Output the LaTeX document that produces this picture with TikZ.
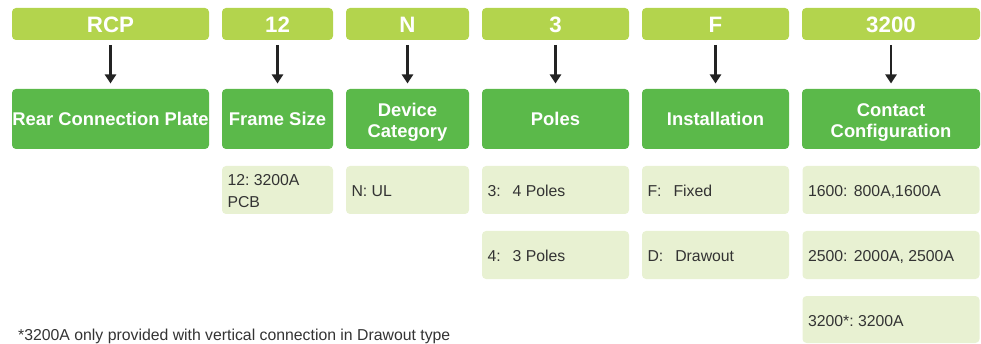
\documentclass[tikz,border=0pt]{standalone}
\usepackage{fontspec}
\setmainfont{Liberation Sans}
\usetikzlibrary{arrows.meta}
\definecolor{hdrc}{RGB}{179,212,77}
\definecolor{lblc}{RGB}{91,185,74}
\definecolor{litc}{RGB}{232,241,210}
\definecolor{txtc}{RGB}{51,51,51}
\definecolor{arrc}{RGB}{35,35,35}
\tikzset{
  boxbase/.style={rectangle, rounded corners=4pt, inner sep=0pt},
  hdr/.style={boxbase, fill=hdrc, minimum height=32pt},
  lbl/.style={boxbase, fill=lblc, minimum height=60pt},
  lit/.style={boxbase, fill=litc, minimum height=48pt},
  hdrtxt/.style={text=white, inner sep=0pt, anchor=base, font=\fontsize{22.3}{26}\selectfont\bfseries},
  lbltxt/.style={text=white, inner sep=0pt, anchor=base, align=center, font=\fontsize{18.4}{21}\selectfont\bfseries},
  littxt/.style={text=txtc, inner sep=0pt, anchor=base west, align=left, font=\fontsize{15.8}{22.5}\selectfont\frenchspacing},
  conn/.style={draw=arrc, line width=2.4pt, -{Triangle[width=11pt,length=9pt]},
    shorten <=4.7pt, shorten >=5.3pt},
  note/.style={text=txtc, inner sep=0pt, anchor=base west, font=\fontsize{15.8}{19}\selectfont\frenchspacing}
}
\begin{document}
\begin{tikzpicture}[x=1pt,y=-1pt]
\useasboundingbox (0,0) rectangle (981,344);
% headers
\node[hdr, minimum width=197pt] (h1) at (110.5,24) {};
\node[hdr, minimum width=111pt] (h2) at (277.5,24) {};
\node[hdr, minimum width=123pt] (h3) at (407.5,24) {};
\node[hdr, minimum width=147pt] (h4) at (555.5,24) {};
\node[hdr, minimum width=147pt] (h5) at (715.5,24) {};
\node[hdr, minimum width=178pt] (h6) at (891,24) {};
\node[hdrtxt] (ht1) at ([yshift=-8.6pt]h1.center) {RCP};
\node[hdrtxt] (ht2) at ([yshift=-8.6pt]h2.center) {12};
\node[hdrtxt] (ht3) at ([yshift=-8.6pt]h3.center) {N};
\node[hdrtxt] (ht4) at ([yshift=-8.6pt]h4.center) {3};
\node[hdrtxt] (ht5) at ([yshift=-8.6pt]h5.center) {F};
\node[hdrtxt] (ht6) at ([yshift=-8.6pt]h6.center) {3200};
% labels
\node[lbl, minimum width=197pt] (l1) at (110.5,119) {};
\node[lbl, minimum width=111pt] (l2) at (277.5,119) {};
\node[lbl, minimum width=123pt] (l3) at (407.5,119) {};
\node[lbl, minimum width=147pt] (l4) at (555.5,119) {};
\node[lbl, minimum width=147pt] (l5) at (715.5,119) {};
\node[lbl, minimum width=178pt] (l6) at (891,119) {};
\node[lbltxt] (lt1) at ([yshift=-6.6pt]l1.center) {Rear Connection Plate};
\node[lbltxt] (lt2) at ([yshift=-6.6pt]l2.center) {Frame Size};
\node[lbltxt] (lt3) at ([yshift=-18.7pt]l3.center) {Device\\Category};
\node[lbltxt] (lt4) at ([yshift=-6.6pt]l4.center) {Poles};
\node[lbltxt] (lt5) at ([yshift=-6.6pt]l5.center) {Installation};
\node[lbltxt] (lt6) at ([yshift=-18.7pt]l6.center) {Contact\\Configuration};
% arrows
\foreach \i in {1,...,6} \draw[conn] (h\i.south) -- (l\i.north);
% option boxes
\node[lit, minimum width=111pt] (o21) at (277.5,190) {};
\node[lit, minimum width=123pt] (o31) at (407.5,190) {};
\node[lit, minimum width=147pt] (o41) at (555.5,190) {};
\node[lit, minimum width=147pt] (o42) at (555.5,255) {};
\node[lit, minimum width=147pt] (o51) at (715.5,190) {};
\node[lit, minimum width=147pt] (o52) at (715.5,255) {};
\node[lit, minimum width=177pt] (o61) at (891,190) {};
\node[lit, minimum width=177pt] (o62) at (891,255) {};
\node[lit, minimum width=177pt, minimum height=47pt] (o63) at (891,319.5) {};
\node[littxt] (ot21) at ([xshift=5.5pt,yshift=-17.7pt]o21.west) {12: 3200A\\PCB};
\node[littxt] (ot31) at ([xshift=5.5pt,yshift=-6.6pt]o31.west) {N: UL};
\node[littxt] (ot41) at ([xshift=5.5pt,yshift=-6.6pt]o41.west) {3:\hspace{12pt}4 Poles};
\node[littxt] (ot42) at ([xshift=5.5pt,yshift=-6.6pt]o42.west) {4:\hspace{12pt}3 Poles};
\node[littxt] (ot51) at ([xshift=5.5pt,yshift=-6.6pt]o51.west) {F:\hspace{12pt}Fixed};
\node[littxt] (ot52) at ([xshift=5.5pt,yshift=-6.6pt]o52.west) {D:\hspace{12pt}Drawout};
\node[littxt] (ot61) at ([xshift=5.5pt,yshift=-6.6pt]o61.west) {1600:\hspace{2pt} 800A,1600A};
\node[littxt] (ot62) at ([xshift=5.5pt,yshift=-6.6pt]o62.west) {2500:\hspace{2pt} 2000A, 2500A};
\node[littxt] (ot63) at ([xshift=5.5pt,yshift=-6.6pt]o63.west) {3200*: 3200A};
% footnote
\node[note] (fn) at (18,340) {*3200A only provided with vertical connection in Drawout type};
\end{tikzpicture}
\end{document}
